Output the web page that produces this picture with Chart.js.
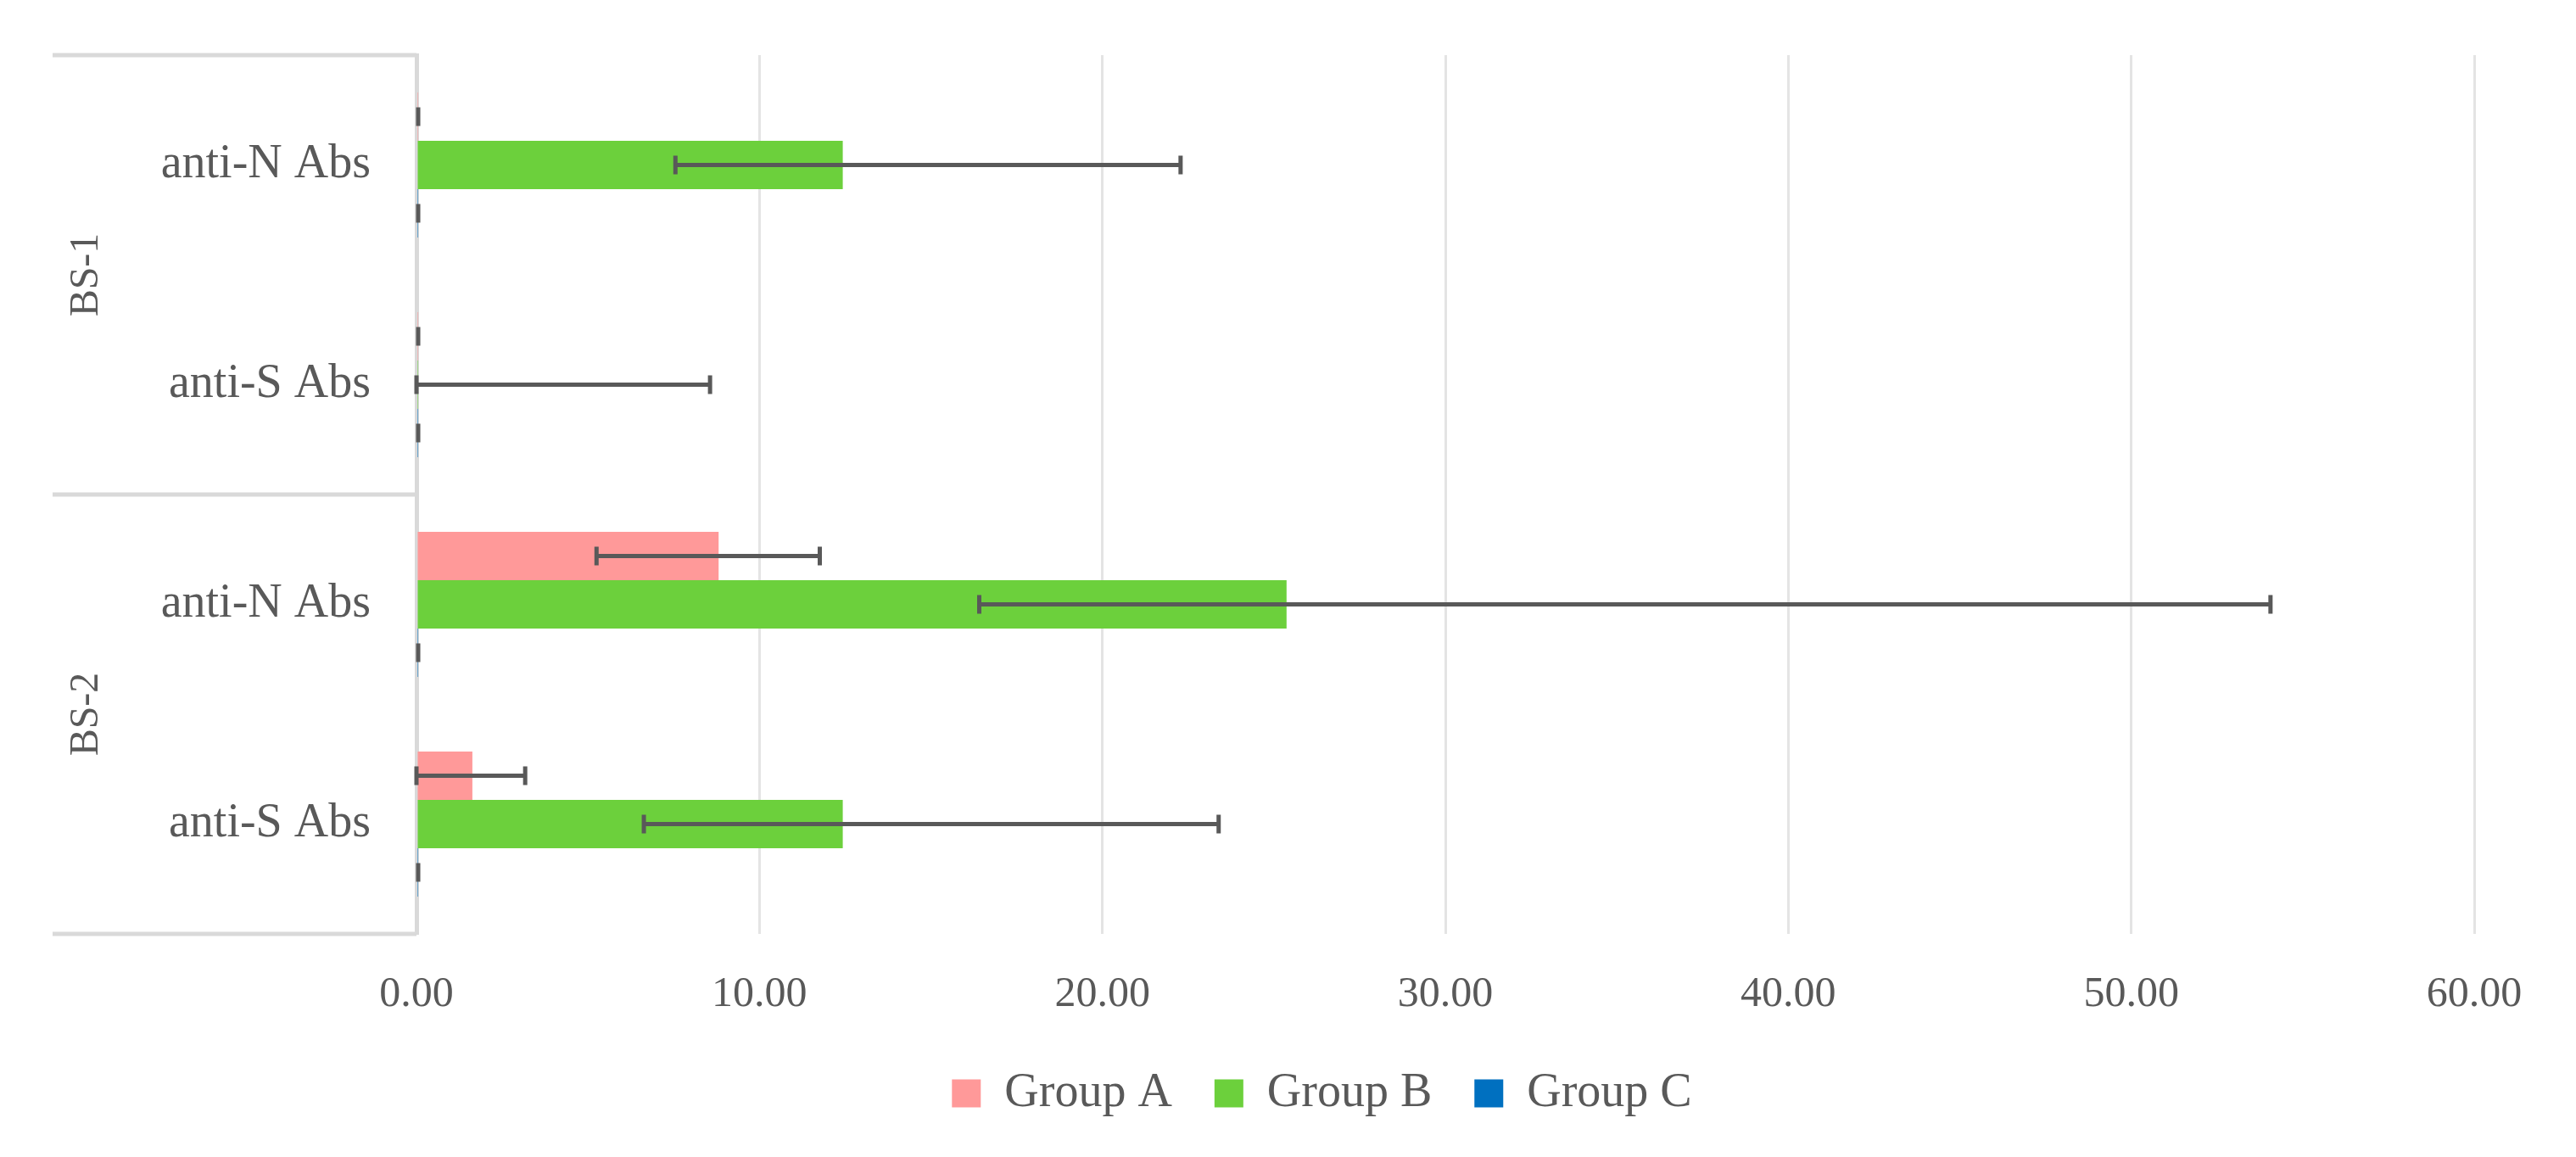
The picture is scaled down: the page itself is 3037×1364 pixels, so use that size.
<!DOCTYPE html>
<html>
<head>
<meta charset="utf-8">
<script src="https://cdn.jsdelivr.net/npm/chart.js@4/dist/chart.umd.min.js"></script>
<style>
  html, body { margin: 0; padding: 0; background: #fff; }
  #wrap { width: 3037px; height: 1364px; }
</style>
</head>
<body>
<div id="wrap"><canvas id="chart-area"></canvas></div>
<script>
// categories top to bottom, grouped by blood sample
var categories = ['anti-N Abs', 'anti-S Abs', 'anti-N Abs', 'anti-S Abs'];
var groups = ['BS-1', 'BS-2'];
var groupSize = [2, 2];

var seriesNames = ['Group A', 'Group B', 'Group C'];
var seriesColors = ['#FF9999', '#6CD03C', '#0070C0'];

var groupA = [0.05, 0.05, 8.81, 1.63];
var groupB = [12.43, 0.05, 25.37, 12.43];
var groupC = [0.05, 0.05, 0.05, 0.05];

// error bar ends (low / high)
var groupALow = [0.05, 0.05, 5.25, 0];
var groupAHigh = [0.05, 0.05, 11.76, 3.17];
var groupBLow = [7.55, 0, 16.41, 6.63];
var groupBHigh = [22.28, 8.56, 54.06, 23.39];
var groupCLow = [0.05, 0.05, 0.05, 0.05];
var groupCHigh = [0.05, 0.05, 0.05, 0.05];

var xTicks = [0, 10, 20, 30, 40, 50, 60];

var textColor = '#595959';
var fontFamily = '"Liberation Serif", "Times New Roman", serif';

var errLow = [groupALow, groupBLow, groupCLow];
var errHigh = [groupAHigh, groupBHigh, groupCHigh];

var errorBars = {
    id: 'errorBars',
    afterDatasetsDraw: function (chart) {
        var ctx = chart.ctx;
        var xs = chart.scales.x;
        ctx.save();
        ctx.strokeStyle = '#595959';
        ctx.lineWidth = 5;
        chart.data.datasets.forEach(function (ds, i) {
            var meta = chart.getDatasetMeta(i);
            meta.data.forEach(function (bar, j) {
                var lo = errLow[i][j], hi = errHigh[i][j];
                if (lo == null || hi == null) return;
                var x1 = xs.getPixelForValue(lo);
                var x2 = xs.getPixelForValue(hi);
                var y = bar.y;
                ctx.beginPath();
                if (hi > lo) {
                    ctx.moveTo(x1, y); ctx.lineTo(x2, y);
                    ctx.moveTo(x2, y - 11); ctx.lineTo(x2, y + 11);
                }
                ctx.moveTo(x1, y - 11); ctx.lineTo(x1, y + 11);
                ctx.stroke();
            });
        });
        ctx.restore();
    }
};

var groupAxis = {
    id: 'groupAxis',
    beforeDraw: function (chart) {
        // legend sits a little right of the canvas centre
        if (!chart.legend._shifted) {
            chart.legend.left += 100;
            chart.legend.right += 100;
            chart.legend._shifted = true;
        }
    },
    afterDraw: function (chart) {
        var ctx = chart.ctx;
        var ys = chart.scales.y;
        var left = chart.chartArea.left;
        var half = (ys.getPixelForValue(1) - ys.getPixelForValue(0)) / 2;
        ctx.save();
        ctx.strokeStyle = '#D9D9D9';
        ctx.lineWidth = 5;
        var start = 0;
        var edges = [ys.getPixelForValue(0) - half];
        groups.forEach(function (g, k) {
            var end = start + groupSize[k] - 1;
            var top = ys.getPixelForValue(start) - half;
            var bottom = ys.getPixelForValue(end) + half;
            edges.push(bottom);
            ctx.save();
            ctx.translate(102, (top + bottom) / 2);
            ctx.rotate(-Math.PI / 2);
            ctx.fillStyle = textColor;
            ctx.font = '48px ' + fontFamily;
            ctx.textAlign = 'center';
            ctx.textBaseline = 'middle';
            ctx.fillText(g, 0, 0);
            ctx.restore();
            start = end + 1;
        });
        edges.forEach(function (y) {
            ctx.beginPath();
            ctx.moveTo(62, y);
            ctx.lineTo(left, y);
            ctx.stroke();
        });
        ctx.restore();
    }
};

Chart.defaults.font.family = fontFamily;
Chart.defaults.color = textColor;

var config = {
    type: 'bar',
    data: {
        labels: categories,
        datasets: [
            { label: seriesNames[0], data: groupA, backgroundColor: seriesColors[0], borderWidth: 0 },
            { label: seriesNames[1], data: groupB, backgroundColor: seriesColors[1], borderWidth: 0 },
            { label: seriesNames[2], data: groupC, backgroundColor: seriesColors[2], borderWidth: 0 }
        ]
    },
    options: {
        indexAxis: 'y',
        responsive: true,
        maintainAspectRatio: false,
        animation: false,
        devicePixelRatio: 1,
        datasets: { bar: { categoryPercentage: 0.66, barPercentage: 1.0 } },
        layout: { padding: { top: 65, right: 120, bottom: 37, left: 0 } },
        scales: {
            x: {
                min: 0,
                max: 60,
                afterBuildTicks: function (s) {
                    s.ticks = xTicks.map(function (v) { return { value: v }; });
                },
                afterFit: function (s) { s.height = 110; },
                ticks: {
                    padding: 42,
                    color: textColor,
                    font: { size: 50 },
                    callback: function (v) { return Number(v).toFixed(2); }
                },
                grid: { color: '#E4E4E4', lineWidth: 3, drawTicks: false },
                border: { display: false }
            },
            y: {
                afterFit: function (s) {
                    s.width = 491;
                    s.paddingTop = 0;
                    s.paddingBottom = 0;
                },
                ticks: { padding: 54, color: textColor, font: { size: 56 } },
                grid: { display: false, drawTicks: false },
                border: { display: true, color: '#D9D9D9', width: 5 }
            }
        },
        plugins: {
            legend: {
                position: 'bottom',
                labels: {
                    color: textColor,
                    font: { size: 56 },
                    boxWidth: 34,
                    boxHeight: 33,
                    padding: 50
                }
            },
            tooltip: { enabled: false }
        }
    },
    plugins: [errorBars, groupAxis]
};

var ctx = document.getElementById('chart-area').getContext('2d');
window.myBar = new Chart(ctx, config);
</script>
</body>
</html>
